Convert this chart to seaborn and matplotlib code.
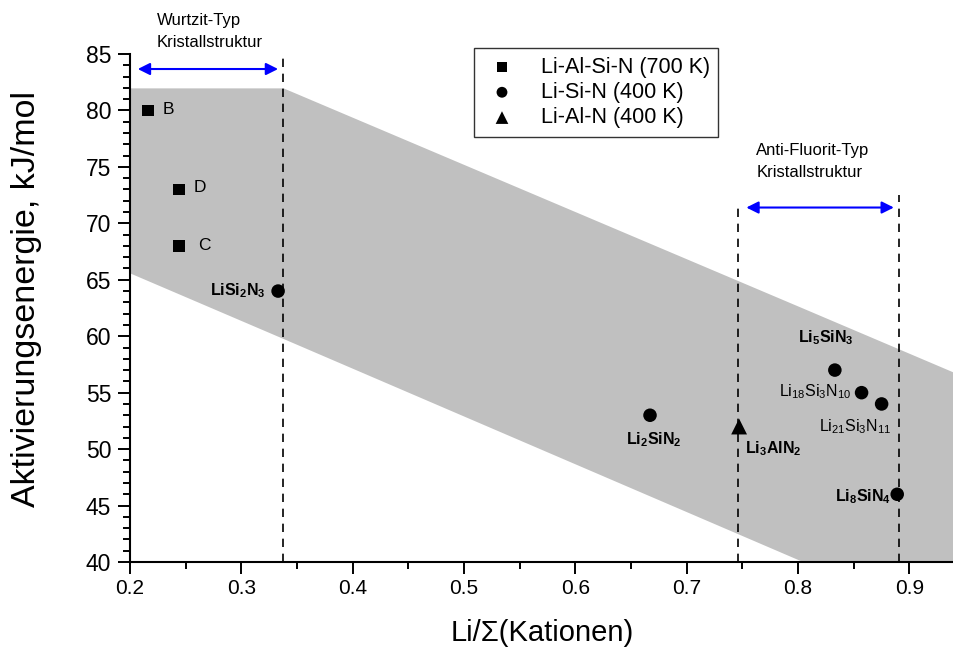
import matplotlib
matplotlib.use("Agg")
import matplotlib.pyplot as plt
import seaborn as sns
import pandas as pd
import numpy as np

# ---------------- data ----------------
sq_x = [0.216, 0.244, 0.244]          # Li-Al-Si-N (700 K)
sq_y = [80, 73, 68]
sq_lab = ["B", "D", "C"]

ci_x = [0.333, 0.667, 0.833, 0.857, 0.875, 0.889]   # Li-Si-N (400 K)
ci_y = [64, 53, 57, 55, 54, 46]

tr_x = [0.747]                        # Li-Al-N (400 K)
tr_y = [52]

series_names = ["Li-Al-Si-N (700 K)", "Li-Si-N (400 K)", "Li-Al-N (400 K)"]

# shaded band
band_x = [0.2, 0.3375, 0.805, 0.94]
band_upper = [82, 82, 62.46, 56.8]
band_lower = [65.6, 59.8, 40, 40]

# vertical dashed lines (x, ytop)
vlines_x = [0.3375, 0.746, 0.891]
vlines_top = [84.8, 71.8, 72.5]

x_ticks = [0.2, 0.3, 0.4, 0.5, 0.6, 0.7, 0.8, 0.9]
y_ticks = [40, 45, 50, 55, 60, 65, 70, 75, 80, 85]

# ---------------- style ----------------
sns.set_theme(style="ticks")
plt.rcParams["font.family"] = ["Liberation Sans", "DejaVu Sans"]
plt.rcParams["mathtext.fontset"] = "custom"
plt.rcParams["mathtext.rm"] = "Liberation Sans"
plt.rcParams["mathtext.it"] = "Liberation Sans:italic"
plt.rcParams["mathtext.bf"] = "Liberation Sans:bold"
for k in ["text.color", "axes.labelcolor", "xtick.color", "ytick.color",
          "xtick.labelcolor", "ytick.labelcolor", "axes.edgecolor"]:
    plt.rcParams[k] = "black"

fig = plt.figure(figsize=(9.54, 6.53), dpi=100)
ax = fig.add_axes([130/954, 1-562/653, (954-130)/954, (562-54)/653])

ax.fill_between(band_x, band_lower, band_upper, color="#c0c0c0", lw=0, zorder=0)

for xv, yt in zip(vlines_x, vlines_top):
    ax.plot([xv, xv], [40, yt], color="black", lw=1.2, ls=(0, (5, 4)), zorder=1)

df_sq = pd.DataFrame({"x": sq_x, "y": sq_y})
df_ci = pd.DataFrame({"x": ci_x, "y": ci_y})
df_tr = pd.DataFrame({"x": tr_x, "y": tr_y})
sns.scatterplot(data=df_sq, x="x", y="y", marker="s", s=70, color="black",
                edgecolor="none", ax=ax, label=series_names[0], zorder=3)
sns.scatterplot(data=df_ci, x="x", y="y", marker="o", s=95, color="black",
                edgecolor="none", ax=ax, label=series_names[1], zorder=3)
sns.scatterplot(data=df_tr, x="x", y="y", marker="^", s=130, color="black",
                edgecolor="none", ax=ax, label=series_names[2], zorder=3)

ax.set_xlim(0.2, 0.94)
ax.set_ylim(40, 85)
ax.set_xticks(x_ticks)
ax.set_yticks(y_ticks)
ax.set_xticklabels([f"{v:.1f}" for v in x_ticks])
ax.set_yticklabels([str(v) for v in y_ticks])
ax.xaxis.set_minor_locator(matplotlib.ticker.MultipleLocator(0.05))
ax.yaxis.set_minor_locator(matplotlib.ticker.MultipleLocator(1))
ax.tick_params(which="major", direction="out", length=8.5, width=1.4,
               color="black", labelsize=15, pad=4)
ax.tick_params(axis="y", which="major", labelsize=16.5, pad=5)
ax.tick_params(which="minor", direction="out", length=5, width=1.4, color="black")
for s in ["top", "right"]:
    ax.spines[s].set_visible(False)
for s in ["left", "bottom"]:
    ax.spines[s].set_linewidth(1.5)
    ax.spines[s].set_color("black")
ax.set_facecolor("white")

ax.set_xlabel("Li/\u03a3(Kationen)", fontsize=21, labelpad=15)
ax.set_ylabel("Aktivierungsenergie, kJ/mol", fontsize=24.5)
ax.yaxis.set_label_coords(-0.107, 0.518)

# legend
leg = ax.legend(loc="upper left", bbox_to_anchor=(474/954, 1-48/653),
                bbox_transform=fig.transFigure, borderaxespad=0,
                fontsize=15.5, frameon=True,
                fancybox=False, edgecolor="black", handletextpad=0.9,
                borderpad=0.4, labelspacing=0.2, handlelength=1.8,
                markerscale=0.8)
leg.get_frame().set_linewidth(1.0)

# point labels
for x, y, t in zip([0.229, 0.257, 0.261], [79.7, 72.8, 67.6], sq_lab):
    ax.text(x, y, t, fontsize=12.5, va="baseline", ha="left")

lab_kw = dict(fontsize=11.5, va="baseline")
ax.text(0.322, 63.65, r"$\mathbf{LiSi_2N_3}$", ha="right", **lab_kw)
ax.text(0.645, 50.4, r"$\mathbf{Li_2SiN_2}$", ha="left", **lab_kw)
ax.text(0.752, 49.65, r"$\mathbf{Li_3AlN_2}$", ha="left", **lab_kw)
ax.text(0.800, 59.5, r"$\mathbf{Li_5SiN_3}$", ha="left", **lab_kw)
ax.text(0.783, 54.65, r"$\mathrm{Li_{18}Si_3N_{10}}$", ha="left", **lab_kw)
ax.text(0.819, 51.6, r"$\mathrm{Li_{21}Si_3N_{11}}$", ha="left", **lab_kw)
ax.text(0.833, 45.35, r"$\mathbf{Li_8SiN_4}$", ha="left", **lab_kw)

# structure annotations
ax.text(0.224, 87.57, "Wurtzit-Typ", fontsize=12, va="baseline", ha="left", clip_on=False)
ax.text(0.224, 85.65, "Kristallstruktur", fontsize=12, va="baseline", ha="left", clip_on=False)
ax.text(0.7625, 76.05, "Anti-Fluorit-Typ", fontsize=12, va="baseline", ha="left")
ax.text(0.7625, 74.13, "Kristallstruktur", fontsize=12, va="baseline", ha="left")

arrow_kw = dict(arrowstyle="<|-|>", color="#0000ff", lw=1.5, mutation_scale=18,
                shrinkA=0, shrinkB=0)
ax.annotate("", xy=(0.333, 83.67), xytext=(0.207, 83.67), arrowprops=arrow_kw,
            annotation_clip=False)
ax.annotate("", xy=(0.886, 71.4), xytext=(0.7535, 71.4), arrowprops=arrow_kw)

fig.savefig("out.png", dpi=100, facecolor="white")
